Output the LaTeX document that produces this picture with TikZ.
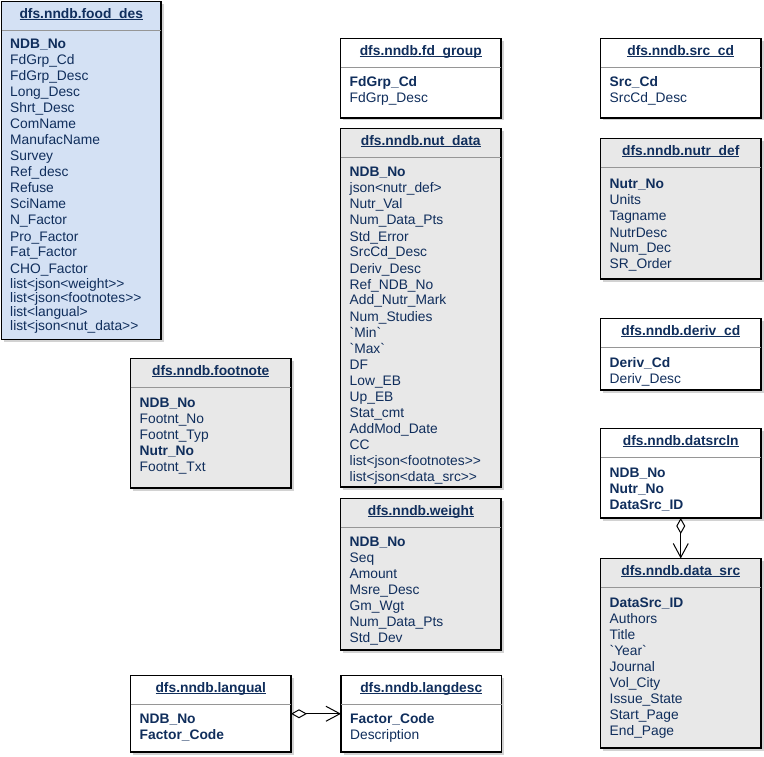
\documentclass[tikz,border=0pt]{standalone}
\usepackage{fontspec}
\setmainfont{Liberation Sans}[Ligatures=TeXOff]
\usetikzlibrary{arrows.meta,shadows,calc}
\definecolor{navy}{RGB}{16,46,92}
\definecolor{bluefill}{RGB}{212,225,244}
\definecolor{grayfill}{RGB}{232,232,232}
\definecolor{sepgray}{RGB}{150,150,150}
\newcommand\erul[1]{\setbox0\hbox{#1}\rlap{\rule[-1.8pt]{\wd0}{0.9pt}}\box0}
\tikzset{
  erframe/.style={draw=black, line width=1.1pt, inner sep=0pt, outer sep=0pt,
    drop shadow={shadow xshift=2.5pt, shadow yshift=-2.5pt, fill=black!35}},
  ersep/.style={draw=sepgray, line width=0.8pt},
  ertitle/.style={anchor=base, inner sep=0pt, text=navy, font=\fontsize{13.8}{16}\selectfont\bfseries},
  errow/.style={anchor=base west, inner sep=0pt, text=navy, font=\fontsize{13.8}{16}\selectfont},
  erlink/.style={draw=black, line width=1pt,
    {Diamond[open, length=16pt, width=9pt]}-{Straight Barb[length=14pt, width=15pt]}}
}
% name, left, top, right, bottom, fill, title
\newcommand\erbox[7]{%
  \node[erframe, fill=#6, minimum width={#4-#2}, minimum height={#5-#3}] (#1) at ({(#2+#4)/2},{(#3+#5)/2}) {};
  \draw[ersep] ($(#1.north west)+(0,28.5)$) -- ($(#1.north east)+(0,28.5)$);
  \node[ertitle] (#1-title) at ($(#1.north)+(0,17)$) {\erul{#7}};
}
% name, x, first baseline, dy, start index, rows
\newcommand\errows[6]{%
  \foreach \t [count=\i from #5] in {#6} {\node[errow] (#1-\i) at ({#2},{#3+#4*(\i-#5)}) {\t};}
}
\begin{document}
\begin{tikzpicture}[x=1pt,y=-1pt]
\useasboundingbox (0,0) rectangle (764,757);

% food_des
\erbox{fooddes}{1.5}{1.5}{161}{339.5}{bluefill}{dfs.nndb.food\_des}
\errows{fooddes}{10}{49}{16}{1}{\textbf{NDB\_No},FdGrp\_Cd,FdGrp\_Desc,Long\_Desc,Shrt\_Desc,ComName,ManufacName,Survey,Ref\_desc,Refuse,SciName,N\_Factor,Pro\_Factor,Fat\_Factor,CHO\_Factor}
\errows{fooddes}{10}{288.5}{14}{16}{list<json<weight>>,list<json<footnotes>>,list<langual>,list<json<nut\_data>>}

% footnote
\erbox{footnote}{130.5}{358.5}{291}{488}{grayfill}{dfs.nndb.footnote}
\errows{footnote}{139.5}{407}{16}{1}{\textbf{NDB\_No},Footnt\_No,Footnt\_Typ,\textbf{Nutr\_No},Footnt\_Txt}

% fd_group
\erbox{fdgroup}{340.5}{38.5}{501}{118}{white}{dfs.nndb.fd\_group}
\errows{fdgroup}{349.5}{87}{16}{1}{\textbf{FdGrp\_Cd},FdGrp\_Desc}

% nut_data
\erbox{nutdata}{340.5}{128.5}{501}{487}{grayfill}{dfs.nndb.nut\_data}
\errows{nutdata}{349.5}{177}{16}{1}{\textbf{NDB\_No},json<nutr\_def>,Nutr\_Val,Num\_Data\_Pts,Std\_Error,SrcCd\_Desc,Deriv\_Desc,Ref\_NDB\_No,Add\_Nutr\_Mark,Num\_Studies,\textasciigrave Min\textasciigrave,\textasciigrave Max\textasciigrave,DF,Low\_EB,Up\_EB,Stat\_cmt,AddMod\_Date,CC,list<json<footnotes>>,list<json<data\_src>>}

% weight
\erbox{weight}{340.5}{498.5}{501}{650}{grayfill}{dfs.nndb.weight}
\errows{weight}{349.5}{546}{16}{1}{\textbf{NDB\_No},Seq,Amount,Msre\_Desc,Gm\_Wgt,Num\_Data\_Pts,Std\_Dev}

% langual
\erbox{langual}{130.5}{675.5}{291}{752}{white}{dfs.nndb.langual}
\errows{langual}{139.5}{723.5}{16}{1}{\textbf{NDB\_No},\textbf{Factor\_Code}}

% langdesc
\erbox{langdesc}{341}{675.5}{501.5}{752}{white}{dfs.nndb.langdesc}
\errows{langdesc}{350}{723.5}{16}{1}{\textbf{Factor\_Code},Description}

% src_cd
\erbox{srccd}{600.5}{38.5}{761}{118}{white}{dfs.nndb.src\_cd}
\errows{srccd}{609.5}{87}{16}{1}{\textbf{Src\_Cd},SrcCd\_Desc}

% nutr_def
\erbox{nutrdef}{600.5}{138.5}{761}{279}{grayfill}{dfs.nndb.nutr\_def}
\errows{nutrdef}{609.5}{189}{16}{1}{\textbf{Nutr\_No},Units,Tagname,NutrDesc,Num\_Dec,SR\_Order}

% deriv_cd
\erbox{derivcd}{600.5}{318.5}{761}{390}{white}{dfs.nndb.deriv\_cd}
\errows{derivcd}{609.5}{367}{16}{1}{\textbf{Deriv\_Cd},Deriv\_Desc}

% datsrcln
\erbox{datsrcln}{600.5}{428.5}{761}{518}{white}{dfs.nndb.datsrcln}
\errows{datsrcln}{609.5}{477.5}{16}{1}{\textbf{NDB\_No},\textbf{Nutr\_No},\textbf{DataSrc\_ID}}

% data_src
\erbox{datasrc}{600.5}{558.5}{761}{748}{grayfill}{dfs.nndb.data\_src}
\errows{datasrc}{609.5}{607.5}{16}{1}{\textbf{DataSrc\_ID},Authors,Title,\textasciigrave Year\textasciigrave,Journal,Vol\_City,Issue\_State,Start\_Page,End\_Page}

% connectors
\draw[erlink] (langual) -- (langdesc);
\draw[erlink] (datsrcln) -- (datasrc);
\end{tikzpicture}
\end{document}
